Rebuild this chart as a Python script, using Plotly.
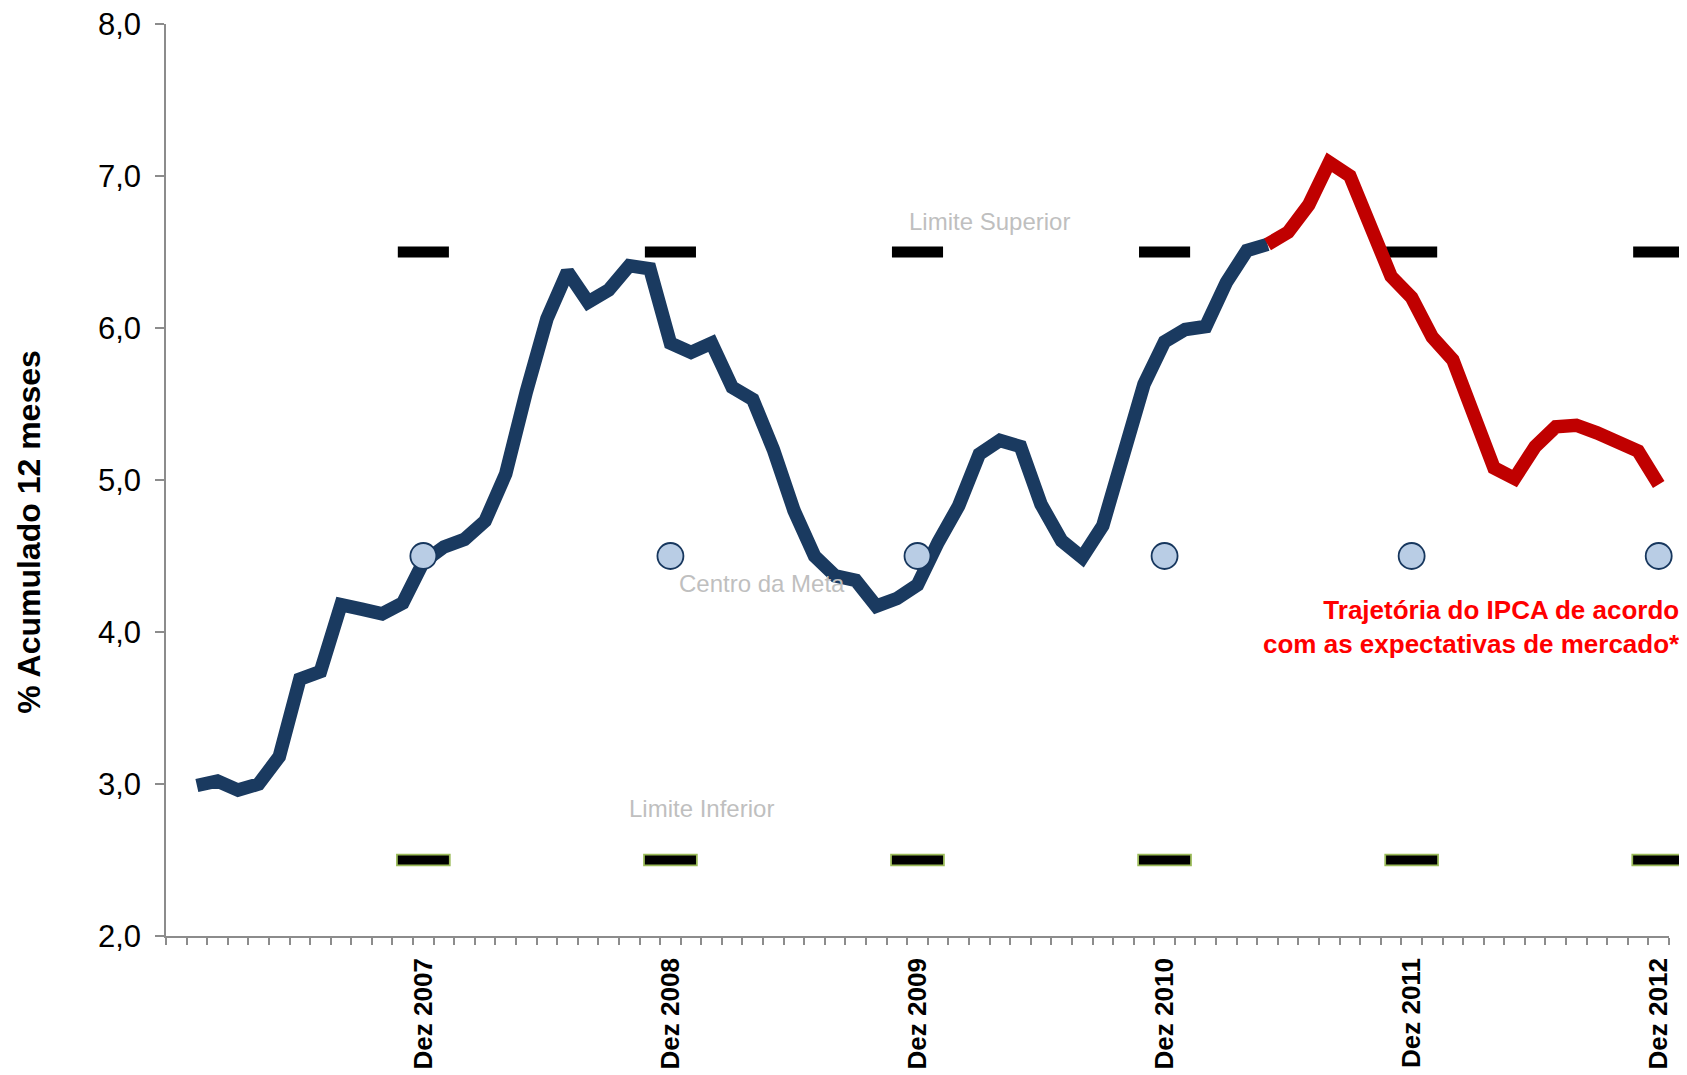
import plotly.graph_objects as go

# Categories: monthly, Dez 2006 .. Dez 2012
meses_pt = ["Jan", "Fev", "Mar", "Abr", "Mai", "Jun", "Jul", "Ago", "Set", "Out", "Nov", "Dez"]
anos = [2007, 2008, 2009, 2010, 2011, 2012]
months = ["Dez 2006"] + [f"{m} {a}" for a in anos for m in meses_pt]

# IPCA realizado (12-month accumulated), Jan 2007 .. Mai 2011
ipca_realizado = [
    2.99, 3.02, 2.96, 3.00, 3.18, 3.69, 3.74, 4.18, 4.15, 4.12, 4.19, 4.46,
    4.56, 4.61, 4.73, 5.04, 5.58, 6.06, 6.37, 6.17, 6.25, 6.41, 6.39, 5.90,
    5.84, 5.90, 5.61, 5.53, 5.20, 4.80, 4.50, 4.37, 4.34, 4.17, 4.22, 4.31,
    4.59, 4.83, 5.17, 5.26, 5.22, 4.84, 4.60, 4.49, 4.70, 5.20, 5.63, 5.91,
    5.99, 6.01, 6.30, 6.51, 6.55,
]
realizado_months = months[1:54]

# Market expectations path, Mai 2011 .. Dez 2012
ipca_expectativa = [
    6.55, 6.63, 6.81, 7.09, 7.00, 6.67, 6.34, 6.20, 5.94, 5.79,
    5.42, 5.08, 5.01, 5.22, 5.35, 5.36, 5.31, 5.26, 5.19, 4.97,
]
expectativa_months = months[53:73]

# Inflation target bands at each December
meta_months = ["Dez 2007", "Dez 2008", "Dez 2009", "Dez 2010", "Dez 2011", "Dez 2012"]
limite_superior = [6.5, 6.5, 6.5, 6.5, 6.5, 6.5]
centro_meta = [4.5, 4.5, 4.5, 4.5, 4.5, 4.5]
limite_inferior = [2.5, 2.5, 2.5, 2.5, 2.5, 2.5]

y_ticks = [2, 3, 4, 5, 6, 7, 8]
x_ticktext = [f"<b>{m}</b>" if m in meta_months else "" for m in months]

FONT = "Liberation Sans, Arial, sans-serif"
AXIS_GRAY = "#8c8c8c"

fig = go.Figure()

# Upper limit bars
fig.add_trace(go.Scatter(
    x=meta_months, y=limite_superior, mode="markers",
    marker=dict(symbol="line-ew", size=36.5, color="black",
                line=dict(color="black", width=11)),
    cliponaxis=False, showlegend=False, hoverinfo="skip",
))
# Lower limit bars (green outline + black core)
fig.add_trace(go.Scatter(
    x=meta_months, y=limite_inferior, mode="markers",
    marker=dict(symbol="line-ew", size=39, color="#9bbb59",
                line=dict(color="#9bbb59", width=12.5)),
    cliponaxis=False, showlegend=False, hoverinfo="skip",
))
fig.add_trace(go.Scatter(
    x=meta_months, y=limite_inferior, mode="markers",
    marker=dict(symbol="line-ew", size=36.5, color="black",
                line=dict(color="black", width=9)),
    cliponaxis=False, showlegend=False, hoverinfo="skip",
))
# Realized IPCA
fig.add_trace(go.Scatter(
    x=realizado_months, y=ipca_realizado, mode="lines",
    line=dict(color="#1a3a60", width=13.5),
    cliponaxis=False, showlegend=False,
))
# Expectations
fig.add_trace(go.Scatter(
    x=expectativa_months, y=ipca_expectativa, mode="lines",
    line=dict(color="#c00000", width=13.5),
    cliponaxis=False, showlegend=False,
))
# Target centre
fig.add_trace(go.Scatter(
    x=meta_months, y=centro_meta, mode="markers",
    marker=dict(symbol="circle", size=26, color="#b9cde5",
                line=dict(color="#17375e", width=1.8)),
    cliponaxis=False, showlegend=False,
))

# The page body has an 8px default margin, so the figure is sized to fit the window.
fig.update_layout(
    width=1679, height=1067,
    margin=dict(l=158, r=18, t=16, b=139),
    paper_bgcolor="white", plot_bgcolor="white",
    separators=",.",
    font=dict(family=FONT, color="black"),
    xaxis=dict(
        type="category", categoryorder="array", categoryarray=months,
        range=[-0.5, len(months) - 0.5], automargin=False,
        tickmode="array", tickvals=months, ticktext=x_ticktext,
        tickson="boundaries", ticks="outside", ticklen=7, tickwidth=1.5,
        tickcolor=AXIS_GRAY, tickangle=-90,
        tickfont=dict(size=26, family=FONT, color="black"),
        ticklabelstandoff=10, ticklabeloverflow="allow",
        showline=True, linecolor=AXIS_GRAY, linewidth=1.5,
        showgrid=False, zeroline=False,
    ),
    yaxis=dict(
        range=[2, 8], tickmode="array", tickvals=y_ticks, tickformat=".1f",
        automargin=False,
        ticks="outside", ticklen=9, tickwidth=1.5, tickcolor=AXIS_GRAY,
        tickfont=dict(size=31, family=FONT, color="black"),
        ticklabelstandoff=8, ticklabeloverflow="allow",
        showline=True, linecolor=AXIS_GRAY, linewidth=1.5,
        showgrid=False, zeroline=False,
    ),
    annotations=[
        dict(text="Limite Superior", x=39.5, y=6.70, xref="x", yref="y",
             showarrow=False, font=dict(size=24, color="#bfbfbf", family=FONT)),
        dict(text="Centro da Meta", x=28.45, y=4.32, xref="x", yref="y",
             showarrow=False, font=dict(size=24, color="#bfbfbf", family=FONT)),
        dict(text="Limite Inferior", x=25.5, y=2.836, xref="x", yref="y",
             showarrow=False, font=dict(size=24, color="#bfbfbf", family=FONT)),
        dict(text="<b>Trajetória do IPCA de acordo<br>com as expectativas de mercado*</b>",
             x=1.0085, y=4.03, xref="paper", yref="y", xanchor="right", yanchor="middle",
             align="right", showarrow=False,
             font=dict(size=26, color="#ff0000", family=FONT)),
        dict(text="<b>% Acumulado 12 meses</b>", x=-0.0912, y=0.4433,
             xref="paper", yref="paper", textangle=-90, showarrow=False,
             xanchor="center", yanchor="middle",
             font=dict(size=32, color="black", family=FONT)),
    ],
)

fig.write_html("out.html")
